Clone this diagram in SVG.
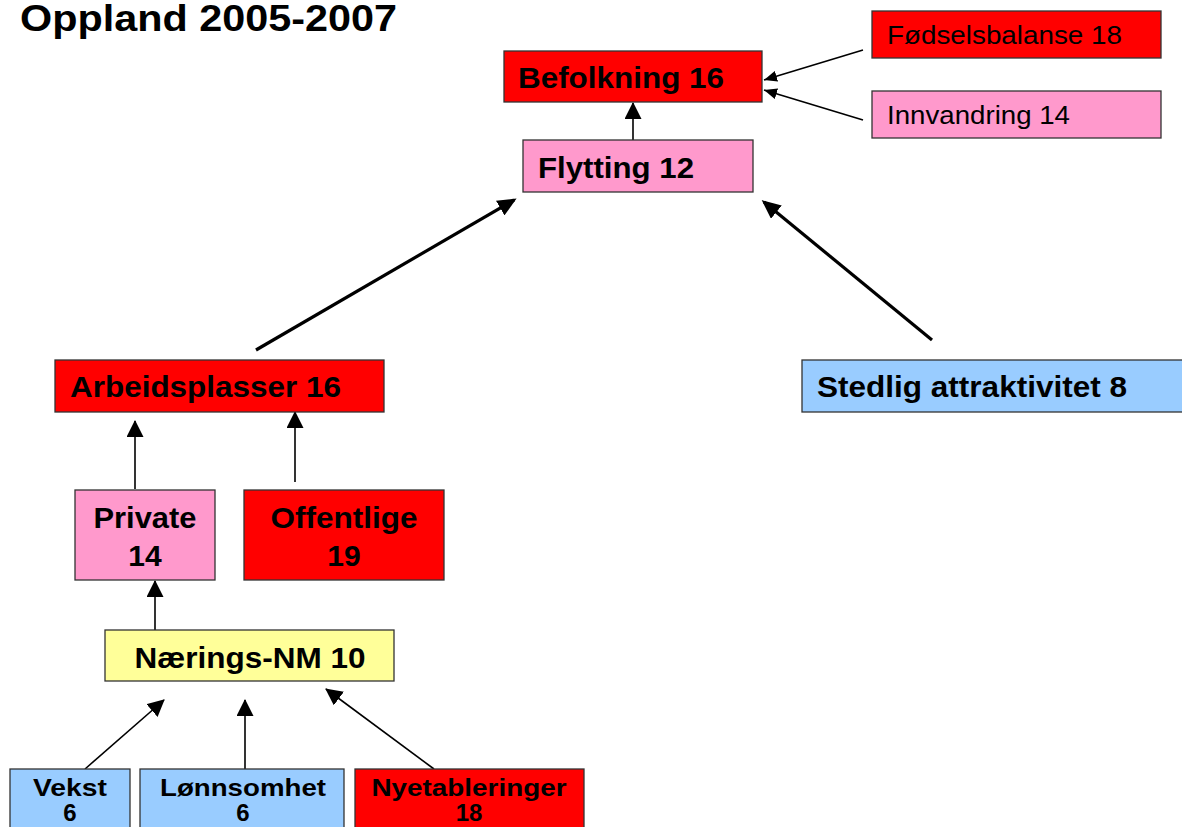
<svg xmlns="http://www.w3.org/2000/svg" width="1182" height="827" viewBox="0 0 1182 827">
<defs>
<style>
.box{stroke:#333;stroke-width:1.3}
.red{fill:#FF0000}.pink{fill:#FF99CC}.blue{fill:#99CCFF}.yel{fill:#FFFF99}
.b{font-family:"Liberation Sans",Arial,sans-serif;font-weight:bold;font-size:30px;fill:#000}
.s{font-family:"Liberation Sans",Arial,sans-serif;font-weight:bold;font-size:24px;fill:#000}
.n{font-family:"Liberation Sans",Arial,sans-serif;font-size:26px;fill:#000}
.c{text-anchor:middle}
.thin{stroke:#000;stroke-width:1.6;fill:none}
.thick{stroke:#000;stroke-width:3.2;fill:none}
</style>
<marker id="ah" markerWidth="17" markerHeight="17" refX="16" refY="8.5" orient="auto" markerUnits="userSpaceOnUse"><path d="M0,0 L17,8.5 L0,17 z" fill="#000"/></marker>
<marker id="ahs" markerWidth="13" markerHeight="11" refX="13" refY="5.5" orient="auto" markerUnits="userSpaceOnUse"><path d="M0,0 L13,5.5 L0,11 z" fill="#000"/></marker>
<marker id="ahb" markerWidth="19" markerHeight="17" refX="16" refY="8.5" orient="auto" markerUnits="userSpaceOnUse"><path d="M0,0 L19,8.5 L0,17 z" fill="#000"/></marker>
</defs>
<rect width="1182" height="827" fill="#fff"/>
<text x="20" y="31" font-family="Liberation Sans, Arial, sans-serif" font-weight="bold" font-size="36" textLength="377" lengthAdjust="spacingAndGlyphs">Oppland 2005-2007</text>

<g id="connectors">
<line class="thin" x1="633" y1="140" x2="633" y2="103" marker-end="url(#ah)"/>
<line class="thin" x1="863" y1="50" x2="764" y2="80" marker-end="url(#ahs)"/>
<line class="thin" x1="863" y1="120" x2="764" y2="90" marker-end="url(#ahs)"/>
<line class="thick" x1="256" y1="350" x2="514" y2="200" marker-end="url(#ahb)"/>
<line class="thick" x1="932" y1="340" x2="764" y2="202" marker-end="url(#ahb)"/>
<line class="thin" x1="135" y1="489" x2="135" y2="421" marker-end="url(#ah)"/>
<line class="thin" x1="295" y1="482" x2="295" y2="412" marker-end="url(#ah)"/>
<line class="thin" x1="155" y1="630" x2="155" y2="581" marker-end="url(#ah)"/>
<line class="thin" x1="85" y1="769" x2="164" y2="700" marker-end="url(#ah)"/>
<line class="thin" x1="245" y1="769" x2="245" y2="700" marker-end="url(#ah)"/>
<line class="thin" x1="434" y1="769" x2="326" y2="689" marker-end="url(#ah)"/>
</g>

<g id="befolkning">
<rect class="box red" x="504" y="51" width="258" height="51"/>
<text class="b" x="518" y="88" textLength="206" lengthAdjust="spacingAndGlyphs">Befolkning 16</text>
</g>
<g id="fodselsbalanse">
<rect class="box red" x="872" y="11" width="289" height="47"/>
<text class="n" x="887" y="44" textLength="235" lengthAdjust="spacingAndGlyphs">Fødselsbalanse 18</text>
</g>
<g id="innvandring">
<rect class="box pink" x="872" y="91" width="289" height="47"/>
<text class="n" x="887" y="124" textLength="183" lengthAdjust="spacingAndGlyphs">Innvandring 14</text>
</g>
<g id="flytting">
<rect class="box pink" x="523" y="140" width="230" height="52"/>
<text class="b" x="538" y="178" textLength="156" lengthAdjust="spacingAndGlyphs">Flytting 12</text>
</g>
<g id="arbeidsplasser">
<rect class="box red" x="55" y="360" width="329" height="52"/>
<text class="b" x="70" y="397" textLength="271" lengthAdjust="spacingAndGlyphs">Arbeidsplasser 16</text>
</g>
<g id="stedlig">
<rect class="box blue" x="802" y="360" width="390" height="52"/>
<text class="b" x="817" y="397" textLength="310" lengthAdjust="spacingAndGlyphs">Stedlig attraktivitet 8</text>
</g>
<g id="private">
<rect class="box pink" x="75" y="490" width="140" height="90"/>
<text class="b c" x="145" y="528" textLength="103" lengthAdjust="spacingAndGlyphs">Private</text>
<text class="b c" x="145" y="566">14</text>
</g>
<g id="offentlige">
<rect class="box red" x="244" y="490" width="200" height="90"/>
<text class="b c" x="344" y="528" textLength="147" lengthAdjust="spacingAndGlyphs">Offentlige</text>
<text class="b c" x="344" y="566">19</text>
</g>
<g id="naerings">
<rect class="box yel" x="105" y="630" width="289" height="51"/>
<text class="b c" x="250" y="668" textLength="231" lengthAdjust="spacingAndGlyphs">Nærings-NM 10</text>
</g>
<g id="vekst">
<rect class="box blue" x="10" y="769" width="120" height="70"/>
<text class="s c" x="70" y="796" textLength="74" lengthAdjust="spacingAndGlyphs">Vekst</text>
<text class="s c" x="70" y="821">6</text>
</g>
<g id="lonnsomhet">
<rect class="box blue" x="140" y="769" width="204" height="70"/>
<text class="s c" x="243" y="796" textLength="166" lengthAdjust="spacingAndGlyphs">Lønnsomhet</text>
<text class="s c" x="243" y="821">6</text>
</g>
<g id="nyetableringer">
<rect class="box red" x="355" y="769" width="229" height="70"/>
<text class="s c" x="469" y="796" textLength="195" lengthAdjust="spacingAndGlyphs">Nyetableringer</text>
<text class="s c" x="469" y="821">18</text>
</g>
</svg>
